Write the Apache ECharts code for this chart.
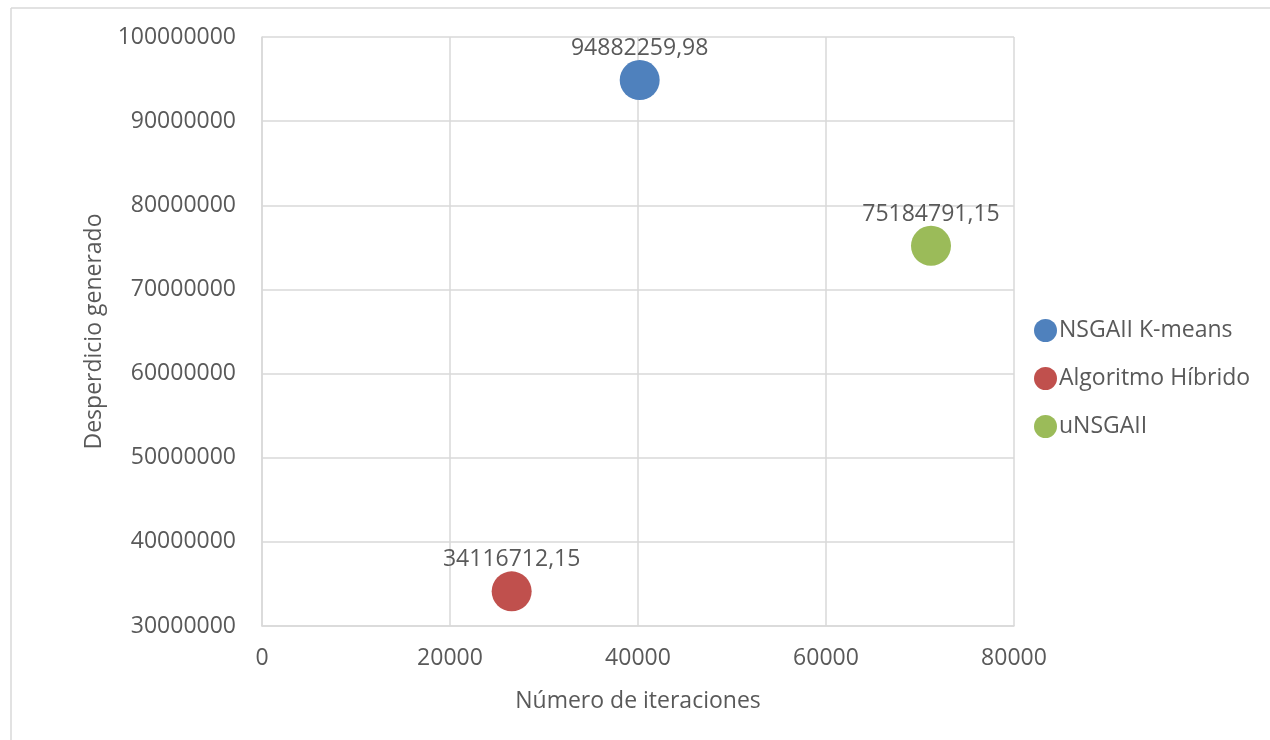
<!DOCTYPE html>
<html>
<head>
<meta charset="utf-8">
<script src="https://cdn.jsdelivr.net/npm/echarts@6/dist/echarts.min.js"></script>
<style>
  html, body { margin: 0; padding: 0; background: #fff; }
  #chart { width: 1270px; height: 740px; }
</style>
</head>
<body>
<div id="chart"></div>
<script>
// Series names
const seriesNames = ['NSGAII K-means', 'Algoritmo Híbrido', 'uNSGAII'];
// Number of iterations for each algorithm
const iterations = [40180, 26560, 71170];
// Waste generated for each algorithm
const waste = [94882259.98, 34116712.15, 75184791.15];
// Axis ranges and steps
const xTicks = { min: 0, max: 80000, step: 20000 };
const yTicks = { min: 30000000, max: 100000000, step: 10000000 };

const colors = ['#4f81bd', '#c0504d', '#9bbb59'];
const FONT = 'Open Sans';
const FS = 23;
const TEXT = '#595959';
const GRID = '#d9d9d9';

const fmt = v => v.toFixed(2).replace('.', ',');
const plain = v => String(v);

const chart = echarts.init(document.getElementById('chart'), null, { renderer: 'canvas' });

chart.setOption({
  animation: false,
  backgroundColor: '#fff',
  textStyle: { fontFamily: FONT, color: TEXT },
  grid: { left: 262, right: 256, top: 37, bottom: 114, containLabel: false },
  graphic: [
    { type: 'line', shape: { x1: 11, y1: 8, x2: 1270, y2: 8 }, style: { stroke: GRID, lineWidth: 1.5 } },
    { type: 'line', shape: { x1: 11, y1: 8, x2: 11, y2: 740 }, style: { stroke: GRID, lineWidth: 1.5 } }
  ],
  legend: {
    orient: 'vertical',
    left: 1029,
    top: 314,
    icon: 'circle',
    itemWidth: 23,
    itemHeight: 23,
    itemGap: 25,
    data: seriesNames,
    textStyle: { fontFamily: FONT, fontSize: FS, color: TEXT, padding: [0, 0, 0, -3] }
  },
  xAxis: {
    type: 'value',
    min: xTicks.min,
    max: xTicks.max,
    interval: xTicks.step,
    name: 'Número de iteraciones',
    nameLocation: 'middle',
    nameGap: 64,
    nameTextStyle: { fontFamily: FONT, fontSize: FS, color: TEXT },
    axisLine: { show: true, lineStyle: { color: GRID, width: 1.5 } },
    axisTick: { show: false },
    axisLabel: { fontFamily: FONT, fontSize: FS, color: TEXT, margin: 21, formatter: plain },
    splitLine: { show: true, lineStyle: { color: GRID, width: 1.5 } }
  },
  yAxis: {
    type: 'value',
    min: yTicks.min,
    max: yTicks.max,
    interval: yTicks.step,
    name: 'Desperdicio generado',
    nameLocation: 'middle',
    nameGap: 156,
    nameTextStyle: { fontFamily: FONT, fontSize: FS, color: TEXT },
    axisLine: { show: true, lineStyle: { color: GRID, width: 1.5 } },
    axisTick: { show: false },
    axisLabel: { fontFamily: FONT, fontSize: FS, color: TEXT, margin: 26, formatter: plain },
    splitLine: { show: true, lineStyle: { color: GRID, width: 1.5 } }
  },
  series: seriesNames.map((name, i) => ({
    name: name,
    type: 'scatter',
    symbol: 'circle',
    symbolSize: 40,
    itemStyle: { color: colors[i], opacity: 1 },
    label: {
      show: true,
      position: 'top',
      distance: 0,
      formatter: p => fmt(p.value[1]),
      fontFamily: FONT,
      fontSize: FS,
      color: TEXT
    },
    data: [[iterations[i], waste[i]]]
  }))
});
</script>
</body>
</html>
